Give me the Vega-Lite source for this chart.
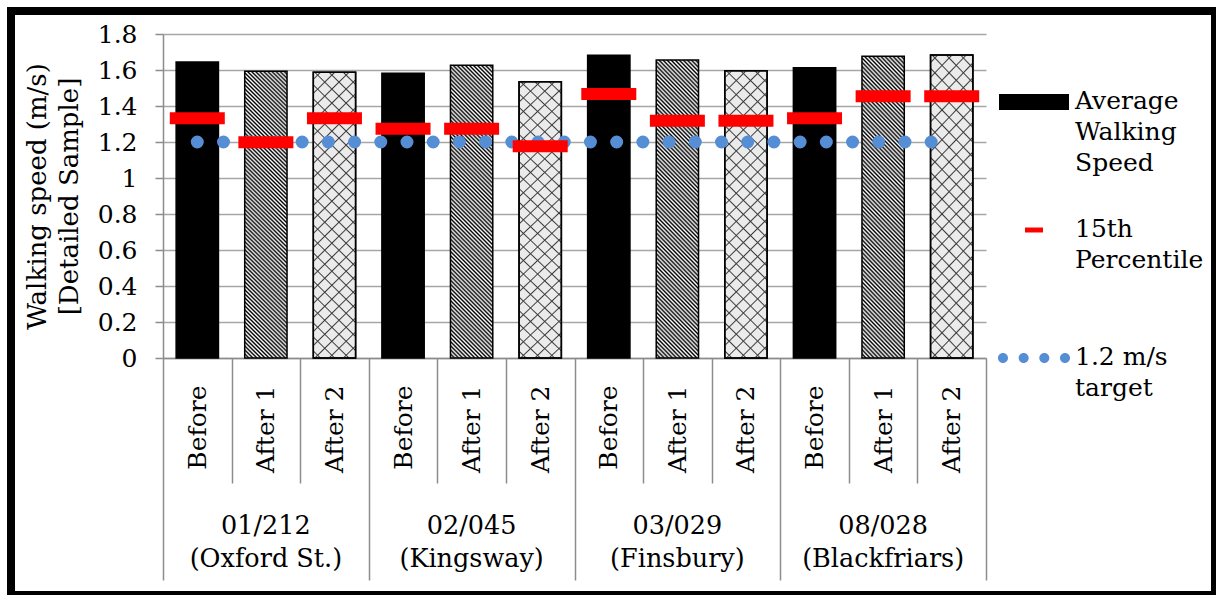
{
  "$schema": "https://vega.github.io/schema/vega-lite/v6.json",
  "width": 1204,
  "height": 584,
  "autosize": "none",
  "padding": {"left": 11, "top": 11, "right": 1, "bottom": 0},
  "background": "white",
  "config": {
    "font": "DejaVu Serif",
    "view": {"stroke": "black", "strokeWidth": 8, "fill": "white"},
    "axis": {
      "labelFont": "DejaVu Serif", "titleFont": "DejaVu Serif",
      "labelColor": "black", "titleColor": "black",
      "labelFontSize": 25, "titleFontSize": 26, "titleFontWeight": "normal",
      "domainColor": "#8c8c8c", "domainWidth": 1.5,
      "tickColor": "#8c8c8c", "tickWidth": 1.5,
      "gridColor": "#a6a6a6", "gridWidth": 1.5
    }
  },
  "datasets": {
    "speeds": [
      {"site": "01/212", "period": "Before", "key": "01/212|Before", "speed": 1.644, "p15": 1.332},
      {"site": "01/212", "period": "After 1", "key": "01/212|After 1", "speed": 1.593, "p15": 1.198},
      {"site": "01/212", "period": "After 2", "key": "01/212|After 2", "speed": 1.587, "p15": 1.332},
      {"site": "02/045", "period": "Before", "key": "02/045|Before", "speed": 1.582, "p15": 1.274},
      {"site": "02/045", "period": "After 1", "key": "02/045|After 1", "speed": 1.626, "p15": 1.274},
      {"site": "02/045", "period": "After 2", "key": "02/045|After 2", "speed": 1.535, "p15": 1.176},
      {"site": "03/029", "period": "Before", "key": "03/029|Before", "speed": 1.682, "p15": 1.467},
      {"site": "03/029", "period": "After 1", "key": "03/029|After 1", "speed": 1.656, "p15": 1.318},
      {"site": "03/029", "period": "After 2", "key": "03/029|After 2", "speed": 1.596, "p15": 1.318},
      {"site": "08/028", "period": "Before", "key": "08/028|Before", "speed": 1.613, "p15": 1.332},
      {"site": "08/028", "period": "After 1", "key": "08/028|After 1", "speed": 1.676, "p15": 1.454},
      {"site": "08/028", "period": "After 2", "key": "08/028|After 2", "speed": 1.683, "p15": 1.454}
    ],
    "groups": [
      {"key": "01/212|After 1", "label": "01/212\n(Oxford St.)"},
      {"key": "02/045|After 1", "label": "02/045\n(Kingsway)"},
      {"key": "03/029|After 1", "label": "03/029\n(Finsbury)"},
      {"key": "08/028|After 1", "label": "08/028\n(Blackfriars)"}
    ],
    "target": [
      {"series": "1.2 m/s target", "start": "01/212|Before", "end": "08/028|After 2", "target": 1.2}
    ]
  },
  "layer": [
    {
      "data": {"name": "speeds"},
      "mark": {"type": "bar", "stroke": "black", "strokeWidth": 1.5, "width": {"band": 0.617}},
      "encoding": {
        "x": {
          "field": "key", "type": "nominal",
          "scale": {
            "domain": ["01/212|Before", "01/212|After 1", "01/212|After 2", "02/045|Before", "02/045|After 1", "02/045|After 2", "03/029|Before", "03/029|After 1", "03/029|After 2", "08/028|Before", "08/028|After 1", "08/028|After 2"],
            "range": [152, 975], "paddingInner": 0, "paddingOuter": 0
          },
          "axis": {
            "title": null,
            "labelExpr": "split(datum.label, '|')[1]",
            "labelAngle": -90,
            "tickBand": "extent",
            "tickSize": {"condition": {"test": "datum.value == null || datum.value === '01/212|After 2' || datum.value === '02/045|After 2' || datum.value === '03/029|After 2' || datum.value === '08/028|After 2'", "value": 222}, "value": 125},
            "labelPadding": {"condition": {"test": "datum.value == null || datum.value === '01/212|After 2' || datum.value === '02/045|After 2' || datum.value === '03/029|After 2' || datum.value === '08/028|After 2'", "value": -195}, "value": -98},
            "offset": -237,
            "grid": false
          }
        },
        "y": {
          "field": "speed", "type": "quantitative",
          "scale": {"domain": [0, 1.8], "range": [347, 23], "nice": false},
          "axis": {
            "title": ["Walking speed (m/s)", "[Detailed Sample]"],
            "values": [0, 0.2, 0.4, 0.6, 0.8, 1, 1.2, 1.4, 1.6, 1.8],
            "format": "~g",
            "offset": -152,
            "tickSize": 8,
            "labelPadding": 18,
            "titlePadding": 15,
            "titleLineHeight": 32,
            "grid": true
          }
        },
        "fill": {
          "condition": [
            {"test": "datum.period === 'After 1'", "value": {"gradient": "linear", "x1": 0, "y1": 1, "x2": 1, "y2": -5.86, "stops": [
              {"offset": 0, "color": "#000"}, {"offset": 0.001, "color": "#fff"}, {"offset": 0.002, "color": "#000"}, {"offset": 0.003, "color": "#fff"}, {"offset": 0.004, "color": "#000"}, {"offset": 0.005, "color": "#fff"}, {"offset": 0.006, "color": "#000"}, {"offset": 0.007, "color": "#fff"}, {"offset": 0.008, "color": "#000"}, {"offset": 0.009, "color": "#fff"},
              {"offset": 0.01, "color": "#000"}, {"offset": 0.011, "color": "#fff"}, {"offset": 0.012, "color": "#000"}, {"offset": 0.013, "color": "#fff"}, {"offset": 0.014, "color": "#000"}, {"offset": 0.015, "color": "#fff"}, {"offset": 0.016, "color": "#000"}, {"offset": 0.017, "color": "#fff"}, {"offset": 0.018, "color": "#000"}, {"offset": 0.019, "color": "#fff"},
              {"offset": 0.02, "color": "#000"}, {"offset": 0.021, "color": "#fff"}, {"offset": 0.022, "color": "#000"}, {"offset": 0.023, "color": "#fff"}, {"offset": 0.024, "color": "#000"}, {"offset": 0.025, "color": "#fff"}, {"offset": 0.026, "color": "#000"}, {"offset": 0.027, "color": "#fff"}, {"offset": 0.028, "color": "#000"}, {"offset": 0.029, "color": "#fff"},
              {"offset": 0.03, "color": "#000"}, {"offset": 0.031, "color": "#fff"}, {"offset": 0.032, "color": "#000"}, {"offset": 0.033, "color": "#fff"}, {"offset": 0.034, "color": "#000"}, {"offset": 0.035, "color": "#fff"}, {"offset": 0.036, "color": "#000"}, {"offset": 0.037, "color": "#fff"}, {"offset": 0.038, "color": "#000"}, {"offset": 0.039, "color": "#fff"},
              {"offset": 0.04, "color": "#000"}, {"offset": 0.041, "color": "#fff"}, {"offset": 0.042, "color": "#000"}, {"offset": 0.043, "color": "#fff"}, {"offset": 0.044, "color": "#000"}, {"offset": 0.045, "color": "#fff"}, {"offset": 0.046, "color": "#000"}, {"offset": 0.047, "color": "#fff"}, {"offset": 0.048, "color": "#000"}, {"offset": 0.049, "color": "#fff"},
              {"offset": 0.05, "color": "#000"}, {"offset": 0.051, "color": "#fff"}, {"offset": 0.052, "color": "#000"}, {"offset": 0.053, "color": "#fff"}, {"offset": 0.054, "color": "#000"}, {"offset": 0.055, "color": "#fff"}, {"offset": 0.056, "color": "#000"}, {"offset": 0.057, "color": "#fff"}, {"offset": 0.058, "color": "#000"}, {"offset": 0.059, "color": "#fff"},
              {"offset": 0.06, "color": "#000"}, {"offset": 0.061, "color": "#fff"}, {"offset": 0.062, "color": "#000"}, {"offset": 0.063, "color": "#fff"}, {"offset": 0.064, "color": "#000"}, {"offset": 0.065, "color": "#fff"}, {"offset": 0.066, "color": "#000"}, {"offset": 0.067, "color": "#fff"}, {"offset": 0.068, "color": "#000"}, {"offset": 0.069, "color": "#fff"},
              {"offset": 0.07, "color": "#000"}, {"offset": 0.071, "color": "#fff"}, {"offset": 0.072, "color": "#000"}, {"offset": 0.073, "color": "#fff"}, {"offset": 0.074, "color": "#000"}, {"offset": 0.075, "color": "#fff"}, {"offset": 0.076, "color": "#000"}, {"offset": 0.077, "color": "#fff"}, {"offset": 0.078, "color": "#000"}, {"offset": 0.079, "color": "#fff"},
              {"offset": 0.08, "color": "#000"}, {"offset": 0.081, "color": "#fff"}, {"offset": 0.082, "color": "#000"}, {"offset": 0.083, "color": "#fff"}, {"offset": 0.084, "color": "#000"}, {"offset": 0.085, "color": "#fff"}, {"offset": 0.086, "color": "#000"}, {"offset": 0.087, "color": "#fff"}, {"offset": 0.088, "color": "#000"}, {"offset": 0.089, "color": "#fff"},
              {"offset": 0.09, "color": "#000"}, {"offset": 0.091, "color": "#fff"}, {"offset": 0.092, "color": "#000"}, {"offset": 0.093, "color": "#fff"}, {"offset": 0.094, "color": "#000"}, {"offset": 0.095, "color": "#fff"}, {"offset": 0.096, "color": "#000"}, {"offset": 0.097, "color": "#fff"}, {"offset": 0.098, "color": "#000"}, {"offset": 0.099, "color": "#fff"},
              {"offset": 0.1, "color": "#000"}, {"offset": 0.101, "color": "#fff"}, {"offset": 0.102, "color": "#000"}, {"offset": 0.103, "color": "#fff"}, {"offset": 0.104, "color": "#000"}, {"offset": 0.105, "color": "#fff"}, {"offset": 0.106, "color": "#000"}, {"offset": 0.107, "color": "#fff"}, {"offset": 0.108, "color": "#000"}, {"offset": 0.109, "color": "#fff"},
              {"offset": 0.11, "color": "#000"}, {"offset": 0.111, "color": "#fff"}, {"offset": 0.112, "color": "#000"}, {"offset": 0.113, "color": "#fff"}, {"offset": 0.114, "color": "#000"}, {"offset": 0.115, "color": "#fff"}, {"offset": 0.116, "color": "#000"}, {"offset": 0.117, "color": "#fff"}, {"offset": 0.118, "color": "#000"}, {"offset": 0.119, "color": "#fff"},
              {"offset": 0.12, "color": "#000"}, {"offset": 0.121, "color": "#fff"}, {"offset": 0.122, "color": "#000"}, {"offset": 0.123, "color": "#fff"}, {"offset": 0.124, "color": "#000"}, {"offset": 0.125, "color": "#fff"}, {"offset": 0.126, "color": "#000"}, {"offset": 0.127, "color": "#fff"}, {"offset": 0.128, "color": "#000"}, {"offset": 0.129, "color": "#fff"},
              {"offset": 0.13, "color": "#000"}, {"offset": 0.131, "color": "#fff"}, {"offset": 0.132, "color": "#000"}, {"offset": 0.133, "color": "#fff"}, {"offset": 0.134, "color": "#000"}, {"offset": 0.135, "color": "#fff"}, {"offset": 0.136, "color": "#000"}, {"offset": 0.137, "color": "#fff"}, {"offset": 0.138, "color": "#000"}, {"offset": 0.139, "color": "#fff"},
              {"offset": 0.14, "color": "#000"}, {"offset": 0.141, "color": "#fff"}, {"offset": 0.142, "color": "#000"}, {"offset": 0.143, "color": "#fff"}, {"offset": 0.144, "color": "#000"}, {"offset": 0.145, "color": "#fff"}, {"offset": 0.146, "color": "#000"}, {"offset": 0.147, "color": "#fff"}, {"offset": 0.148, "color": "#000"}, {"offset": 0.149, "color": "#fff"},
              {"offset": 0.15, "color": "#000"}, {"offset": 0.151, "color": "#fff"}, {"offset": 0.152, "color": "#000"}, {"offset": 0.153, "color": "#fff"}, {"offset": 0.154, "color": "#000"}, {"offset": 0.155, "color": "#fff"}, {"offset": 0.156, "color": "#000"}, {"offset": 0.157, "color": "#fff"}, {"offset": 0.158, "color": "#000"}, {"offset": 0.159, "color": "#fff"},
              {"offset": 0.16, "color": "#000"}, {"offset": 0.161, "color": "#fff"}, {"offset": 0.162, "color": "#000"}, {"offset": 0.163, "color": "#fff"}, {"offset": 0.164, "color": "#000"}, {"offset": 0.165, "color": "#fff"}
            ]}},
            {"test": "datum.period === 'After 2'", "value": {"gradient": "linear", "x1": 0, "y1": 1, "x2": 1, "y2": -5.86, "stops": [
              {"offset": 0.0028, "color": "#ebebeb"}, {"offset": 0.0035, "color": "#3c3c3c"}, {"offset": 0.0042, "color": "#ebebeb"},
              {"offset": 0.0098, "color": "#ebebeb"}, {"offset": 0.0105, "color": "#3c3c3c"}, {"offset": 0.0112, "color": "#ebebeb"},
              {"offset": 0.0168, "color": "#ebebeb"}, {"offset": 0.0175, "color": "#3c3c3c"}, {"offset": 0.0182, "color": "#ebebeb"},
              {"offset": 0.0238, "color": "#ebebeb"}, {"offset": 0.0245, "color": "#3c3c3c"}, {"offset": 0.0252, "color": "#ebebeb"},
              {"offset": 0.0308, "color": "#ebebeb"}, {"offset": 0.0315, "color": "#3c3c3c"}, {"offset": 0.0322, "color": "#ebebeb"},
              {"offset": 0.0378, "color": "#ebebeb"}, {"offset": 0.0385, "color": "#3c3c3c"}, {"offset": 0.0392, "color": "#ebebeb"},
              {"offset": 0.0448, "color": "#ebebeb"}, {"offset": 0.0455, "color": "#3c3c3c"}, {"offset": 0.0462, "color": "#ebebeb"},
              {"offset": 0.0518, "color": "#ebebeb"}, {"offset": 0.0525, "color": "#3c3c3c"}, {"offset": 0.0532, "color": "#ebebeb"},
              {"offset": 0.0588, "color": "#ebebeb"}, {"offset": 0.0595, "color": "#3c3c3c"}, {"offset": 0.0602, "color": "#ebebeb"},
              {"offset": 0.0658, "color": "#ebebeb"}, {"offset": 0.0665, "color": "#3c3c3c"}, {"offset": 0.0672, "color": "#ebebeb"},
              {"offset": 0.0728, "color": "#ebebeb"}, {"offset": 0.0735, "color": "#3c3c3c"}, {"offset": 0.0742, "color": "#ebebeb"},
              {"offset": 0.0798, "color": "#ebebeb"}, {"offset": 0.0805, "color": "#3c3c3c"}, {"offset": 0.0812, "color": "#ebebeb"},
              {"offset": 0.0868, "color": "#ebebeb"}, {"offset": 0.0875, "color": "#3c3c3c"}, {"offset": 0.0882, "color": "#ebebeb"},
              {"offset": 0.0938, "color": "#ebebeb"}, {"offset": 0.0945, "color": "#3c3c3c"}, {"offset": 0.0952, "color": "#ebebeb"},
              {"offset": 0.1008, "color": "#ebebeb"}, {"offset": 0.1015, "color": "#3c3c3c"}, {"offset": 0.1022, "color": "#ebebeb"},
              {"offset": 0.1078, "color": "#ebebeb"}, {"offset": 0.1085, "color": "#3c3c3c"}, {"offset": 0.1092, "color": "#ebebeb"},
              {"offset": 0.1148, "color": "#ebebeb"}, {"offset": 0.1155, "color": "#3c3c3c"}, {"offset": 0.1162, "color": "#ebebeb"},
              {"offset": 0.1218, "color": "#ebebeb"}, {"offset": 0.1225, "color": "#3c3c3c"}, {"offset": 0.1232, "color": "#ebebeb"},
              {"offset": 0.1288, "color": "#ebebeb"}, {"offset": 0.1295, "color": "#3c3c3c"}, {"offset": 0.1302, "color": "#ebebeb"},
              {"offset": 0.1358, "color": "#ebebeb"}, {"offset": 0.1365, "color": "#3c3c3c"}, {"offset": 0.1372, "color": "#ebebeb"},
              {"offset": 0.1428, "color": "#ebebeb"}, {"offset": 0.1435, "color": "#3c3c3c"}, {"offset": 0.1442, "color": "#ebebeb"},
              {"offset": 0.1498, "color": "#ebebeb"}, {"offset": 0.1505, "color": "#3c3c3c"}, {"offset": 0.1512, "color": "#ebebeb"},
              {"offset": 0.1568, "color": "#ebebeb"}, {"offset": 0.1575, "color": "#3c3c3c"}, {"offset": 0.1582, "color": "#ebebeb"},
              {"offset": 0.1638, "color": "#ebebeb"}, {"offset": 0.1645, "color": "#3c3c3c"}, {"offset": 0.1652, "color": "#ebebeb"}
            ]}}
          ],
          "value": "black"
        }
      }
    },
    {
      "data": {"name": "speeds"},
      "transform": [{"filter": "datum.period === 'After 2'"}],
      "mark": {"type": "bar", "stroke": "black", "strokeWidth": 1.5, "width": {"band": 0.617}, "fill": {"gradient": "linear", "x1": 0, "y1": 0, "x2": 1, "y2": 6.86, "stops": [
        {"offset": 0.0028, "color": "rgba(60,60,60,0)"}, {"offset": 0.0035, "color": "#3c3c3c"}, {"offset": 0.0042, "color": "rgba(60,60,60,0)"},
        {"offset": 0.0098, "color": "rgba(60,60,60,0)"}, {"offset": 0.0105, "color": "#3c3c3c"}, {"offset": 0.0112, "color": "rgba(60,60,60,0)"},
        {"offset": 0.0168, "color": "rgba(60,60,60,0)"}, {"offset": 0.0175, "color": "#3c3c3c"}, {"offset": 0.0182, "color": "rgba(60,60,60,0)"},
        {"offset": 0.0238, "color": "rgba(60,60,60,0)"}, {"offset": 0.0245, "color": "#3c3c3c"}, {"offset": 0.0252, "color": "rgba(60,60,60,0)"},
        {"offset": 0.0308, "color": "rgba(60,60,60,0)"}, {"offset": 0.0315, "color": "#3c3c3c"}, {"offset": 0.0322, "color": "rgba(60,60,60,0)"},
        {"offset": 0.0378, "color": "rgba(60,60,60,0)"}, {"offset": 0.0385, "color": "#3c3c3c"}, {"offset": 0.0392, "color": "rgba(60,60,60,0)"},
        {"offset": 0.0448, "color": "rgba(60,60,60,0)"}, {"offset": 0.0455, "color": "#3c3c3c"}, {"offset": 0.0462, "color": "rgba(60,60,60,0)"},
        {"offset": 0.0518, "color": "rgba(60,60,60,0)"}, {"offset": 0.0525, "color": "#3c3c3c"}, {"offset": 0.0532, "color": "rgba(60,60,60,0)"},
        {"offset": 0.0588, "color": "rgba(60,60,60,0)"}, {"offset": 0.0595, "color": "#3c3c3c"}, {"offset": 0.0602, "color": "rgba(60,60,60,0)"},
        {"offset": 0.0658, "color": "rgba(60,60,60,0)"}, {"offset": 0.0665, "color": "#3c3c3c"}, {"offset": 0.0672, "color": "rgba(60,60,60,0)"},
        {"offset": 0.0728, "color": "rgba(60,60,60,0)"}, {"offset": 0.0735, "color": "#3c3c3c"}, {"offset": 0.0742, "color": "rgba(60,60,60,0)"},
        {"offset": 0.0798, "color": "rgba(60,60,60,0)"}, {"offset": 0.0805, "color": "#3c3c3c"}, {"offset": 0.0812, "color": "rgba(60,60,60,0)"},
        {"offset": 0.0868, "color": "rgba(60,60,60,0)"}, {"offset": 0.0875, "color": "#3c3c3c"}, {"offset": 0.0882, "color": "rgba(60,60,60,0)"},
        {"offset": 0.0938, "color": "rgba(60,60,60,0)"}, {"offset": 0.0945, "color": "#3c3c3c"}, {"offset": 0.0952, "color": "rgba(60,60,60,0)"},
        {"offset": 0.1008, "color": "rgba(60,60,60,0)"}, {"offset": 0.1015, "color": "#3c3c3c"}, {"offset": 0.1022, "color": "rgba(60,60,60,0)"},
        {"offset": 0.1078, "color": "rgba(60,60,60,0)"}, {"offset": 0.1085, "color": "#3c3c3c"}, {"offset": 0.1092, "color": "rgba(60,60,60,0)"},
        {"offset": 0.1148, "color": "rgba(60,60,60,0)"}, {"offset": 0.1155, "color": "#3c3c3c"}, {"offset": 0.1162, "color": "rgba(60,60,60,0)"},
        {"offset": 0.1218, "color": "rgba(60,60,60,0)"}, {"offset": 0.1225, "color": "#3c3c3c"}, {"offset": 0.1232, "color": "rgba(60,60,60,0)"},
        {"offset": 0.1288, "color": "rgba(60,60,60,0)"}, {"offset": 0.1295, "color": "#3c3c3c"}, {"offset": 0.1302, "color": "rgba(60,60,60,0)"},
        {"offset": 0.1358, "color": "rgba(60,60,60,0)"}, {"offset": 0.1365, "color": "#3c3c3c"}, {"offset": 0.1372, "color": "rgba(60,60,60,0)"},
        {"offset": 0.1428, "color": "rgba(60,60,60,0)"}, {"offset": 0.1435, "color": "#3c3c3c"}, {"offset": 0.1442, "color": "rgba(60,60,60,0)"},
        {"offset": 0.1498, "color": "rgba(60,60,60,0)"}, {"offset": 0.1505, "color": "#3c3c3c"}, {"offset": 0.1512, "color": "rgba(60,60,60,0)"},
        {"offset": 0.1568, "color": "rgba(60,60,60,0)"}, {"offset": 0.1575, "color": "#3c3c3c"}, {"offset": 0.1582, "color": "rgba(60,60,60,0)"},
        {"offset": 0.1638, "color": "rgba(60,60,60,0)"}, {"offset": 0.1645, "color": "#3c3c3c"}, {"offset": 0.1652, "color": "rgba(60,60,60,0)"}
      ]}},
      "encoding": {
        "x": {"field": "key", "type": "nominal"},
        "y": {"field": "speed", "type": "quantitative"}
      }
    },
    {
      "data": {"name": "target"},
      "mark": {"type": "rule", "strokeWidth": 13, "strokeCap": "round", "strokeDash": [0.01, 26.2]},
      "encoding": {
        "x": {"field": "start", "type": "nominal"},
        "x2": {"field": "end"},
        "y": {"field": "target", "type": "quantitative"},
        "color": {
          "field": "series", "type": "nominal",
          "scale": {"domain": ["Average Walking Speed", "15th Percentile", "1.2 m/s target"], "range": ["black", "#ff0000", "#558ed5"]},
          "legend": {
            "title": null,
            "orient": "none",
            "legendX": 988,
            "legendY": 56,
            "padding": 0,
            "symbolSize": 4900,
            "labelFont": "DejaVu Serif",
            "labelFontSize": 25,
            "labelColor": "black",
            "labelLimit": 0,
            "labelOffset": 6,
            "labelBaseline": "top",
            "rowPadding": 19,
            "gridAlign": "all",
            "labelExpr": "datum.label === 'Average Walking Speed' ? ['Average','Walking','Speed'] : datum.label === '15th Percentile' ? ['15th','Percentile'] : ['1.2 m/s','target']",
            "encode": {
              "symbols": {
                "update": {
                  "shape": {"signal": "datum.value === 'Average Walking Speed' ? 'M-1,-0.229H1V0.229H-1Z' : datum.value === '15th Percentile' ? 'M-0.257,-0.071H0.257V0.071H-0.257Z' : 'M-1.029,0a0.143,0.143 0 1,0 0.286,0a0.143,0.143 0 1,0 -0.286,0M-0.438,0a0.143,0.143 0 1,0 0.286,0a0.143,0.143 0 1,0 -0.286,0M0.152,0a0.143,0.143 0 1,0 0.286,0a0.143,0.143 0 1,0 -0.286,0M0.743,0a0.143,0.143 0 1,0 0.286,0a0.143,0.143 0 1,0 -0.286,0'"},
                  "fill": {"signal": "datum.value === 'Average Walking Speed' ? 'black' : datum.value === '15th Percentile' ? '#ff0000' : '#558ed5'"},
                  "stroke": {"value": "transparent"},
                  "strokeWidth": {"value": 0},
                  "strokeDash": {"value": []},
                  "opacity": {"value": 1}
                }
              },
              "labels": {"update": {"lineHeight": {"value": 31}, "dy": {"value": -13}}}
            }
          }
        }
      }
    },
    {
      "data": {"name": "speeds"},
      "mark": {"type": "tick", "color": "#ff0000", "thickness": 12, "size": 55, "opacity": 1},
      "encoding": {
        "x": {"field": "key", "type": "nominal"},
        "y": {"field": "p15", "type": "quantitative"}
      }
    },
    {
      "data": {"name": "groups"},
      "mark": {"type": "text", "lineBreak": "\n", "fontSize": 25.5, "baseline": "alphabetic", "dy": 176, "lineHeight": 33, "color": "black", "font": "DejaVu Serif"},
      "encoding": {
        "x": {"field": "key", "type": "nominal"},
        "y": {"datum": 0, "type": "quantitative"},
        "text": {"field": "label"}
      }
    }
  ]
}
